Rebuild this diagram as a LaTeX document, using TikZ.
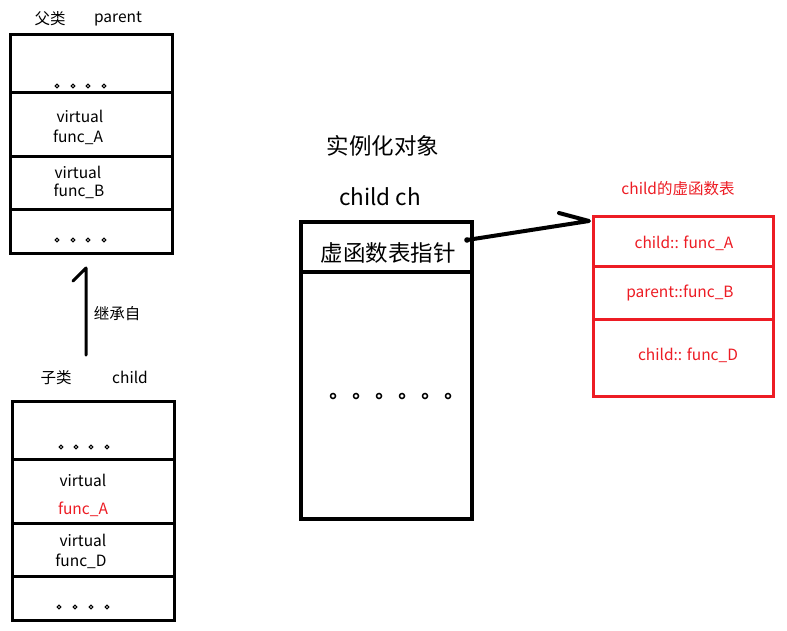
\documentclass[tikz,border=0pt]{standalone}
\usepackage{fontspec}
\setmainfont{Noto Sans CJK SC}
\definecolor{hred}{RGB}{237,28,36}
\begin{document}
\begin{tikzpicture}[x=1pt,y=-1pt,
  cell/.style={draw=black,line width=3pt,rectangle,inner sep=0pt,minimum width=#1},
  rcell/.style={draw=hred,line width=3pt,rectangle,inner sep=0pt,minimum width=180pt},
  small/.style={inner sep=0pt,font=\fontsize{15.5}{18}\selectfont},
  big/.style={inner sep=0pt,font=\fontsize{22.5}{26}\selectfont},
  dot/.style={circle,draw=black,line width=1.1pt,inner sep=0pt,minimum size=3.6pt},
  bdot/.style={circle,draw=black,line width=1.5pt,inner sep=0pt,minimum size=5pt}]
\useasboundingbox (0,0) rectangle (787,631);
\fill[white] (0,0) rectangle (787,631);

% parent class
\node[small] (ptitleA) at (50,19) {父类};
\node[small] (ptitleB) at (118,19) {parent};
\node[cell=162pt,minimum height=58pt] (p1) at (91,64) {};
\node[cell=162pt,minimum height=64pt] (p2) at (91,125) {};
\node[cell=162pt,minimum height=53pt] (p3) at (91,183.5) {};
\node[cell=162pt,minimum height=43pt] (p4) at (91,231.5) {};
\foreach \x in {57,73,88,104} {\node[dot] at (\x,86) {}; \node[dot] at (\x,240) {};}
\node[small] (pv1) at (80,116) {virtual};
\node[small] (pfa) at (78,137) {func\_A};
\node[small] (pv2) at (78,172) {virtual};
\node[small] (pfb) at (79,191) {func\_B};

% inheritance
\coordinate (inhlow) at (86,355);
\coordinate (inhtop) at (86,268);
\coordinate (inhhook) at (73,281);
\draw[line width=3pt,line cap=round,line join=round] (inhlow) -- (inhtop) -- (inhhook);
\node[small] (inh) at (117,314) {继承自};

% child class
\node[small] (ctitleA) at (56,378) {子类};
\node[small] (ctitleB) at (130,377) {child};
\node[cell=162pt,minimum height=58pt] (c1) at (93,430) {};
\node[cell=162pt,minimum height=64pt] (c2) at (93,491) {};
\node[cell=162pt,minimum height=53pt] (c3) at (93,549.5) {};
\node[cell=162pt,minimum height=44pt] (c4) at (93,598) {};
\foreach \x in {61,76,91,107} {\node[dot] at (\x,447) {};}
\foreach \x in {59,75,91,107} {\node[dot] at (\x,607) {};}
\node[small] (cv1) at (83,480) {virtual};
\node[small,text=hred] (cfa) at (83,509) {func\_A};
\node[small] (cv2) at (83,540) {virtual};
\node[small] (cfd) at (81,561) {func\_D};

% instance
\node[big] (inst) at (383,146) {实例化对象};
\node[big] (chname) at (380,197) {child ch};
\node[cell=171pt,line width=4pt,minimum height=50pt] (m1) at (386.5,247) {};
\node[cell=171pt,line width=4pt,minimum height=247pt] (m2) at (386.5,395.5) {};
\node[big] (ptr) at (388,253) {虚函数表指针};
\foreach \x in {333,356,379,402,425,448} {\node[bdot] at (\x,396) {};}

% vtable
\node[small,text=hred] (vtitle) at (678,189) {child的虚函数表};
\node[rcell,minimum height=49pt] (r1) at (683,241.5) {};
\node[rcell,minimum height=53pt] (r2) at (683,292.5) {};
\node[rcell,minimum height=77pt] (r3) at (683,357.5) {};
\node[small,text=hred] (ra) at (684,243) {child:: func\_A};
\node[small,text=hred] (rb) at (680,293) {parent::func\_B};
\node[small,text=hred] (rd) at (688,355) {child:: func\_D};

% pointer arrow
\coordinate (ps) at (467,240);
\coordinate (tip) at (589,221);
\coordinate (barb) at (559,213);
\fill (ps) circle (2.8pt);
\draw[line width=4pt,line cap=round,line join=round] (ps) -- (tip) -- (barb);
\end{tikzpicture}
\end{document}
